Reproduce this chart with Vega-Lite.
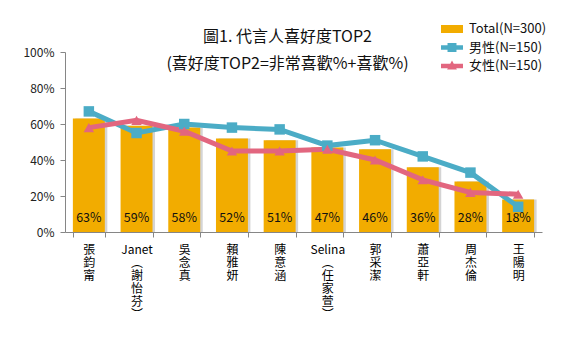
{
  "$schema": "https://vega.github.io/schema/vega-lite/v6.json",
  "width": 477,
  "height": 180,
  "autosize": {"type": "none"},
  "padding": {"left": 65, "top": 52, "right": 36, "bottom": 115},
  "background": "white",
  "config": {
    "view": {"stroke": null},
    "font": "Noto Sans CJK TC"
  },
  "title": {
    "text": ["圖1. 代言人喜好度TOP2", "(喜好度TOP2=非常喜歡%+喜歡%)"],
    "fontSize": 16,
    "fontWeight": "normal",
    "lineHeight": 27,
    "color": "#111",
    "anchor": "middle",
    "dx": -16,
    "offset": -50
  },
  "data": {
    "values": [
      {"name": "張鈞甯", "series": "Total(N=300)", "value": 0.63},
      {"name": "Janet(謝怡芬)", "series": "Total(N=300)", "value": 0.59},
      {"name": "吳念真", "series": "Total(N=300)", "value": 0.58},
      {"name": "賴雅妍", "series": "Total(N=300)", "value": 0.52},
      {"name": "陳意涵", "series": "Total(N=300)", "value": 0.51},
      {"name": "Selina(任家萱)", "series": "Total(N=300)", "value": 0.47},
      {"name": "郭采潔", "series": "Total(N=300)", "value": 0.46},
      {"name": "蕭亞軒", "series": "Total(N=300)", "value": 0.36},
      {"name": "周杰倫", "series": "Total(N=300)", "value": 0.28},
      {"name": "王陽明", "series": "Total(N=300)", "value": 0.18},
      {"name": "張鈞甯", "series": "男性(N=150)", "value": 0.67},
      {"name": "Janet(謝怡芬)", "series": "男性(N=150)", "value": 0.55},
      {"name": "吳念真", "series": "男性(N=150)", "value": 0.60},
      {"name": "賴雅妍", "series": "男性(N=150)", "value": 0.58},
      {"name": "陳意涵", "series": "男性(N=150)", "value": 0.57},
      {"name": "Selina(任家萱)", "series": "男性(N=150)", "value": 0.48},
      {"name": "郭采潔", "series": "男性(N=150)", "value": 0.51},
      {"name": "蕭亞軒", "series": "男性(N=150)", "value": 0.42},
      {"name": "周杰倫", "series": "男性(N=150)", "value": 0.33},
      {"name": "王陽明", "series": "男性(N=150)", "value": 0.14},
      {"name": "張鈞甯", "series": "女性(N=150)", "value": 0.58},
      {"name": "Janet(謝怡芬)", "series": "女性(N=150)", "value": 0.62},
      {"name": "吳念真", "series": "女性(N=150)", "value": 0.56},
      {"name": "賴雅妍", "series": "女性(N=150)", "value": 0.45},
      {"name": "陳意涵", "series": "女性(N=150)", "value": 0.45},
      {"name": "Selina(任家萱)", "series": "女性(N=150)", "value": 0.46},
      {"name": "郭采潔", "series": "女性(N=150)", "value": 0.40},
      {"name": "蕭亞軒", "series": "女性(N=150)", "value": 0.29},
      {"name": "周杰倫", "series": "女性(N=150)", "value": 0.22},
      {"name": "王陽明", "series": "女性(N=150)", "value": 0.21}
    ]
  },
  "encoding": {
    "x": {
      "field": "name",
      "type": "nominal",
      "sort": null,
      "scale": {"paddingInner": 0.33, "paddingOuter": 0.165},
      "axis": {
        "title": null,
        "tickBand": "extent",
        "domainColor": "#868686",
        "tickColor": "#868686",
        "tickSize": 5,
        "labelAngle": 0,
        "labelAlign": "center",
        "labelBaseline": "top",
        "labelPadding": 7,
        "labelFontSize": 12,
        "labelLineHeight": 13,
        "labelColor": "#000",
        "labelExpr": "!isString(datum.value) ? '' : datum.value == 'Janet(謝怡芬)' ? ['Janet','︵','謝','怡','芬','︶'] : datum.value == 'Selina(任家萱)' ? ['Selina','︵','任','家','萱','︶'] : split(datum.value, '')"
      }
    },
    "y": {
      "field": "value",
      "type": "quantitative",
      "scale": {"domain": [0, 1], "nice": false},
      "axis": {
        "title": null,
        "values": [0, 0.2, 0.4, 0.6, 0.8, 1],
        "format": ".0%",
        "grid": false,
        "domainColor": "#868686",
        "tickColor": "#868686",
        "tickSize": 5,
        "labelFontSize": 12,
        "labelColor": "#222",
        "labelPadding": 6
      }
    }
  },
  "layer": [
    {
      "transform": [{"filter": "datum.series == 'Total(N=300)'"}],
      "mark": {"type": "bar", "color": "#d4d4d4", "xOffset": 2.5},
      "encoding": {}
    },
    {
      "transform": [{"filter": "datum.series == 'Total(N=300)'"}],
      "mark": {"type": "bar"},
      "encoding": {
        "color": {
          "field": "series",
          "type": "nominal",
          "scale": {
            "domain": ["Total(N=300)", "男性(N=150)", "女性(N=150)"],
            "range": ["#F2AC00", "#4BACC6", "#E2667F"]
          },
          "legend": {
            "title": null,
            "orient": "none",
            "legendX": 380,
            "legendY": -30,
            "labelFontSize": 13,
            "labelColor": "#111",
            "labelOffset": 10,
            "rowPadding": 4.5,
            "symbolSize": 196,
            "encode": {
              "symbols": {
                "update": {
                  "shape": {"signal": "datum.value == 'Total(N=300)' ? 'M-1.57,-0.57H1.57V0.57H-1.57Z' : datum.value == '男性(N=150)' ? 'M-1.57,-0.33H1.57V0.33H-1.57Z M-0.64,-0.64H0.64V0.64H-0.64Z' : 'M-1.57,-0.33H1.57V0.33H-1.57Z M-0.7,0.5L0,-0.8L0.7,0.5Z'"},
                  "fill": {"scale": "color", "field": "value"},
                  "strokeWidth": {"value": 0},
                  "opacity": {"value": 1}
                }
              }
            }
          }
        }
      }
    },
    {
      "transform": [{"filter": "datum.series == 'Total(N=300)'"}],
      "mark": {"type": "text", "fontSize": 12.5, "color": "#111", "baseline": "middle", "dy": -14},
      "encoding": {
        "y": {"datum": 0},
        "text": {"field": "value", "type": "quantitative", "format": ".0%"}
      }
    },
    {
      "transform": [{"filter": "datum.series != 'Total(N=300)'"}],
      "mark": {"type": "line", "strokeWidth": 5},
      "encoding": {
        "color": {"field": "series", "type": "nominal"}
      }
    },
    {
      "transform": [{"filter": "datum.series != 'Total(N=300)'"}],
      "mark": {"type": "point", "filled": true, "opacity": 1},
      "encoding": {
        "color": {"field": "series", "type": "nominal"},
        "shape": {
          "field": "series",
          "type": "nominal",
          "scale": {"domain": ["男性(N=150)", "女性(N=150)"], "range": ["square", "triangle-up"]},
          "legend": null
        },
        "size": {"value": 110}
      }
    }
  ]
}
